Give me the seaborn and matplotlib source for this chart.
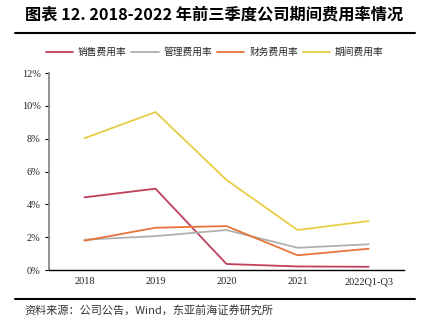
import matplotlib
matplotlib.use("Agg")
import matplotlib.pyplot as plt
import seaborn as sns
import pandas as pd
from matplotlib.ticker import FuncFormatter
from matplotlib.lines import Line2D

categories = ["2018", "2019", "2020", "2021", "2022Q1-Q3"]
sales_rate = [4.43, 4.96, 0.37, 0.22, 0.20]
admin_rate = [1.85, 2.07, 2.44, 1.36, 1.57]
fin_rate = [1.79, 2.58, 2.68, 0.90, 1.30]
period_rate = [8.03, 9.63, 5.49, 2.44, 2.99]
series_names = ["销售费用率", "管理费用率", "财务费用率", "期间费用率"]
y_ticks = [0, 2, 4, 6, 8, 10, 12]

colors = ["#C0405A", "#B0B0B0", "#E8743B", "#E8CC45"]

rows = []
for name, vals in zip(series_names, [sales_rate, admin_rate, fin_rate, period_rate]):
    for i, (c, v) in enumerate(zip(categories, vals)):
        rows.append({"x": i, "cat": c, "value": v, "series": name})
df = pd.DataFrame(rows)

sns.set_theme(style="white")
plt.rcParams["font.family"] = ["Noto Sans CJK SC", "DejaVu Sans"]

fig = plt.figure(figsize=(4.25, 3.25), dpi=100)
ax = fig.add_axes([0.115, 0.169, 0.836, 0.606])

sns.lineplot(data=df, x="x", y="value", hue="series", hue_order=series_names,
             palette=colors, linewidth=1.3, ax=ax, legend=False, sort=False)

ax.set_xlim(-0.5, 4.5)
ax.set_ylim(0, 12)
ax.set_xticks(range(len(categories)))
ax.set_xticklabels(categories)
ax.set_yticks(y_ticks)
ax.yaxis.set_major_formatter(FuncFormatter(lambda v, p: f"{int(v)}%"))
ax.set_xlabel("")
ax.set_ylabel("")
for s in ["top", "right"]:
    ax.spines[s].set_visible(False)
ax.spines["left"].set_color("#808080")
ax.spines["left"].set_linewidth(1.2)
ax.spines["bottom"].set_color("black")
ax.spines["bottom"].set_linewidth(1.0)
ax.tick_params(axis="y", which="major", length=3, width=0.8, color="black",
               left=True, labelsize=7.5, pad=3)
ax.tick_params(axis="x", length=0, labelsize=7.5, pad=5)
for lab in ax.get_xticklabels() + ax.get_yticklabels():
    lab.set_fontfamily("Liberation Serif")
    lab.set_color("#222222")

handles = [Line2D([0], [0], color=c, lw=1.3) for c in colors]
fig.legend(handles, series_names, loc="center", bbox_to_anchor=(0.505, 0.84),
           ncol=4, frameon=False, handlelength=2.8,
           handletextpad=0.5, columnspacing=0.5, prop={"size": 7})

fig.text(0.058, 0.955, "图表 12. 2018-2022 年前三季度公司期间费用率情况",
         fontsize=11.7, fontweight="bold", ha="left", va="center", color="black")
fig.add_artist(Line2D([0.035, 0.977], [0.898, 0.898], color="black", lw=1.5,
                      transform=fig.transFigure))
fig.add_artist(Line2D([0.035, 0.977], [0.080, 0.080], color="black", lw=1.5,
                      transform=fig.transFigure))
fig.text(0.058, 0.045, "资料来源：公司公告，Wind，东亚前海证券研究所",
         fontsize=8, ha="left", va="center", color="#333333")

fig.savefig("out.png", dpi=100)
